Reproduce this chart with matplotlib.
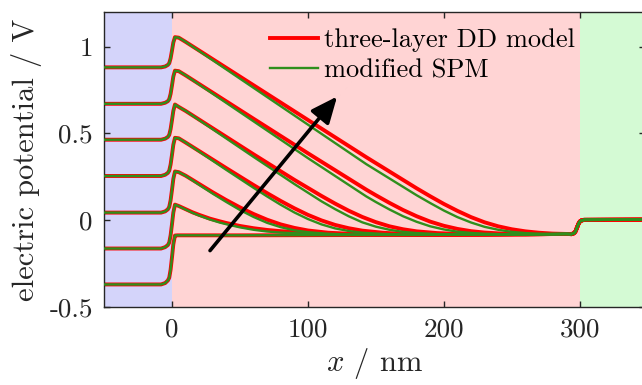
"""Electric potential across the three layers: DD model vs modified SPM."""

import matplotlib

matplotlib.use("Agg")
import matplotlib.pyplot as plt  # noqa: E402
from matplotlib.lines import Line2D  # noqa: E402

plt.rcParams["font.family"] = "serif"
plt.rcParams["font.serif"] = ["cmr10"]
plt.rcParams["mathtext.fontset"] = "cm"
plt.rcParams["axes.unicode_minus"] = False
plt.rcParams["axes.formatter.use_mathtext"] = True

RED = "#ff0000"
GREEN = "#2f8f1c"
INK = "#262626"

# interface at x = 0: shared x samples, one row per curve (bottom curve first)
x_step = [-50, -8, -5, -3, -2, -1, 0, 1, 2.2]
v_step = [
    [-0.370, -0.370, -0.362, -0.347, -0.331, -0.285, -0.215, -0.139, -0.088],
    [-0.163, -0.163, -0.155, -0.143, -0.128, -0.087, -0.024, 0.044, 0.090],
    [0.044, 0.044, 0.051, 0.063, 0.077, 0.115, 0.174, 0.238, 0.281],
    [0.255, 0.255, 0.262, 0.273, 0.286, 0.321, 0.376, 0.435, 0.475],
    [0.464, 0.464, 0.470, 0.480, 0.492, 0.525, 0.576, 0.630, 0.667],
    [0.671, 0.671, 0.677, 0.686, 0.698, 0.728, 0.776, 0.828, 0.862],
    [0.881, 0.881, 0.886, 0.895, 0.905, 0.933, 0.977, 1.024, 1.055],
]

# perovskite bulk, per curve
x_bulk = [
    [4, 50, 150, 250],
    [5, 10, 15, 20, 28, 35, 40, 50, 60, 70, 80, 100, 120, 150, 180],
    [5, 10, 20, 30, 40, 50, 60, 70, 80, 90, 100, 115, 130, 150, 170, 200],
    [5, 10, 40, 60, 70, 80, 90, 100, 110, 120, 130, 140, 155, 170, 190, 210],
    [5, 10, 60, 90, 110, 120, 130, 140, 150, 160, 170, 180, 195, 210, 230],
    [5, 10, 60, 100, 143, 150, 160, 170, 180, 190, 200, 210, 220, 230, 245, 260],
    [5, 10, 60, 100, 143, 180, 190, 200, 210, 220, 230, 240, 250, 260, 270, 280],
]
dd_bulk = [
    [-0.087, -0.087, -0.085, -0.081],
    [0.082, 0.064, 0.046, 0.031, 0.009, -0.006, -0.016, -0.033, -0.046, -0.056, -0.063, -0.072, -0.078, -0.082, -0.084],
    [0.277, 0.257, 0.209, 0.161, 0.116, 0.074, 0.036, 0.003, -0.024, -0.044, -0.059, -0.072, -0.078, -0.082, -0.083, -0.084],
    [0.472, 0.448, 0.300, 0.203, 0.156, 0.111, 0.069, 0.031, -0.001, -0.027, -0.046, -0.060, -0.072, -0.079, -0.082, -0.083],
    [0.653, 0.630, 0.380, 0.233, 0.140, 0.096, 0.055, 0.019, -0.011, -0.035, -0.052, -0.064, -0.074, -0.079, -0.082],
    [0.859, 0.835, 0.585, 0.386, 0.176, 0.144, 0.100, 0.059, 0.023, -0.008, -0.032, -0.050, -0.063, -0.071, -0.078, -0.081],
    [1.052, 1.028, 0.778, 0.578, 0.363, 0.184, 0.138, 0.094, 0.054, 0.018, -0.012, -0.035, -0.052, -0.064, -0.072, -0.077],
]
spm_bulk = [
    [-0.087, -0.087, -0.085, -0.081],
    [0.081, 0.062, 0.043, 0.027, 0.004, -0.013, -0.023, -0.041, -0.055, -0.065, -0.071, -0.078, -0.082, -0.084, -0.085],
    [0.277, 0.256, 0.204, 0.153, 0.105, 0.059, 0.019, -0.015, -0.040, -0.058, -0.069, -0.078, -0.082, -0.084, -0.084, -0.084],
    [0.472, 0.448, 0.290, 0.187, 0.137, 0.089, 0.045, 0.007, -0.024, -0.047, -0.062, -0.072, -0.079, -0.082, -0.084, -0.084],
    [0.653, 0.630, 0.365, 0.209, 0.109, 0.064, 0.023, -0.012, -0.037, -0.055, -0.067, -0.074, -0.080, -0.082, -0.084],
    [0.859, 0.835, 0.570, 0.358, 0.137, 0.105, 0.062, 0.023, -0.009, -0.035, -0.053, -0.066, -0.073, -0.078, -0.081, -0.083],
    [1.052, 1.028, 0.763, 0.551, 0.323, 0.144, 0.099, 0.056, 0.018, -0.013, -0.038, -0.055, -0.067, -0.074, -0.078, -0.081],
]

# interface at x = 300 nm, same for every curve
x_right = [290, 294, 296, 297, 298, 299, 300, 301, 303, 348]
v_right = [-0.079, -0.080, -0.074, -0.062, -0.042, -0.022, -0.008, -0.002, 0.002, 0.003]

fig = plt.figure(figsize=(6.42, 3.85), dpi=100)
# right edge of the frame sits just past the image border, as in the source
ax = fig.add_axes([104 / 642, 78 / 385, 541 / 642, 295 / 385])
ax.set_xlim(-50, 348)
ax.set_ylim(-0.5, 1.2)

ax.axvspan(-50, 0, color="#d4d4fa", lw=0, zorder=0)
ax.axvspan(0, 300, color="#ffd4d4", lw=0, zorder=0)
ax.axvspan(300, 348, color="#d4fad4", lw=0, zorder=0)

for i in range(len(v_step)):
    xs = x_step + x_bulk[i] + x_right
    ax.plot(xs, v_step[i] + dd_bulk[i] + v_right, color=RED, lw=2.8, solid_capstyle="round", zorder=2)
for i in range(len(v_step)):
    xs = x_step + x_bulk[i] + x_right
    ax.plot(xs, v_step[i] + spm_bulk[i] + v_right, color=GREEN, lw=1.7, solid_capstyle="round", zorder=3)

ax.annotate("", xy=(121.5, 0.713), xytext=(28, -0.175),
            arrowprops=dict(arrowstyle="-|>,head_length=0.8,head_width=0.35", lw=2.6,
                            color="black", mutation_scale=20, shrinkA=0, shrinkB=0), zorder=4)

handles = [Line2D([], [], color=RED, lw=2.8), Line2D([], [], color=GREEN, lw=1.7)]
ax.legend(handles, ["three-layer DD model", "modified SPM"], loc="upper left",
          bbox_to_anchor=(0.307, 0.945), frameon=False, fontsize=19, handlelength=1.8,
          handletextpad=0.25, labelspacing=0.25, borderpad=0, borderaxespad=0)

ax.set_xticks([0, 100, 200, 300])
ax.set_xticklabels(["0", "100", "200", "300"])
ax.set_yticks([-0.5, 0, 0.5, 1])
ax.set_yticklabels(["-0.5", "0", "0.5", "1"])
ax.tick_params(direction="in", length=4, width=1, top=True, right=True, labelsize=19.5,
               colors=INK, pad=8)
for s in ax.spines.values():
    s.set_color(INK)
    s.set_linewidth(1)

ax.set_xlabel(r"$x$ / nm", fontsize=22, color=INK, labelpad=3)
ax.set_ylabel("electric potential / V", fontsize=22, color=INK, labelpad=5)

fig.savefig("out.png", dpi=100)
